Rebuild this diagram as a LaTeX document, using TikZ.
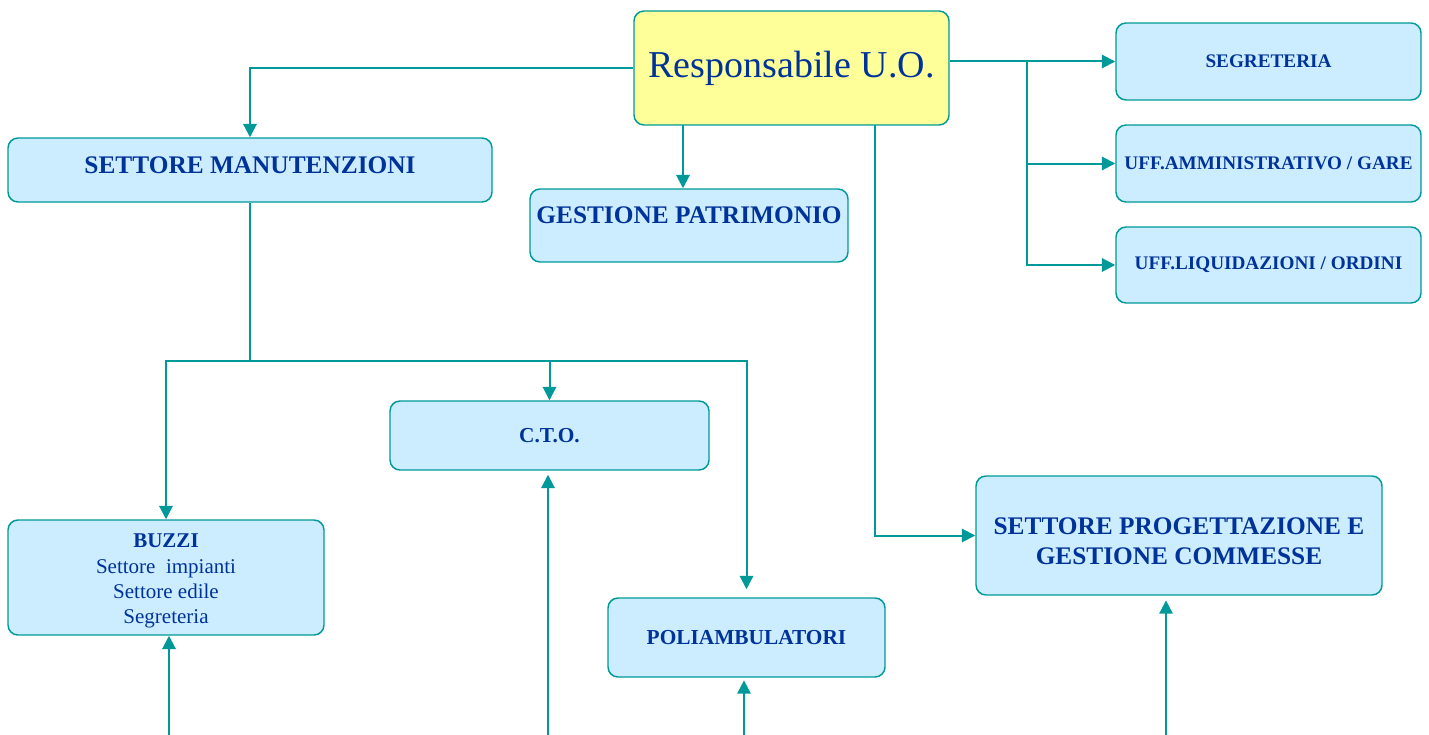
\documentclass[tikz,border=0pt]{standalone}
\usepackage{fontspec}
\setmainfont{Liberation Serif}
\usepackage{xcolor}
\usetikzlibrary{arrows.meta}
\definecolor{orgline}{RGB}{0,153,153}
\definecolor{orgtext}{RGB}{0,51,153}
\definecolor{orgfill}{RGB}{204,236,255}
\definecolor{bossfill}{RGB}{255,255,153}
\tikzset{
    blk/.style={draw=orgline, line width=1.1pt, fill=orgfill, rounded corners=7.5pt, inner sep=0pt, align=center, text=orgtext, font=\bfseries\fontsize{19pt}{22.5pt}\selectfont},
    small/.style={font=\bfseries\fontsize{14.4pt}{18pt}\selectfont},
    mid/.style={font=\bfseries\fontsize{16pt}{18pt}\selectfont},
    boss/.style={blk, fill=bossfill, font=\fontsize{28.5pt}{32pt}\selectfont},
    org/.style={>={Triangle[length=10pt,width=10pt]}, line width=1.5pt, draw=orgline}
}
\begin{document}
\begin{tikzpicture}[x=0.75pt, y=-0.75pt, org]
        \useasboundingbox (0,0) rectangle (1429,735);
        % boxes
        \node[boss, minimum width=236.25pt, minimum height=85.5pt] (resp) at (791.5,68) {Responsabile U.O.};
        \node[blk, minimum width=363pt, minimum height=48pt, text depth=7.5pt] (settman) at (250,170) {SETTORE MANUTENZIONI};
        \node[blk, minimum width=238.5pt, minimum height=54.75pt, text depth=15pt] (gest) at (689,225.5) {GESTIONE PATRIMONIO};
        \node[blk, small, minimum width=228.75pt, minimum height=57.75pt] (segr) at (1268.5,61.5) {SEGRETERIA};
        \node[blk, small, minimum width=228.75pt, minimum height=57.75pt] (amm) at (1268.5,163.5) {UFF.AMMINISTRATIVO / GARE};
        \node[blk, small, minimum width=228.75pt, minimum height=57pt] (liq) at (1268.5,265) {UFF.LIQUIDAZIONI / ORDINI};
        \node[blk, mid, minimum width=239.25pt, minimum height=51.75pt] (cto) at (549.5,435.5) {C.T.O.};
        \node[blk, minimum width=237pt, minimum height=86.25pt, font=\fontsize{15.75pt}{19pt}\selectfont] (buzzi) at (166,577.5) {\rule{0pt}{16pt}\textbf{BUZZI}\\Settore\ \ impianti\\Settore edile\\Segreteria};
        \node[blk, mid, minimum width=207.75pt, minimum height=59.25pt] (poli) at (746.5,637.5) {POLIAMBULATORI};
        \node[blk, minimum width=304.5pt, minimum height=89.25pt] (prog) at (1179,535.5) {\rule{0pt}{21pt}SETTORE PROGETTAZIONE E\\GESTIONE COMMESSE};

        % junction points
        \coordinate (d1) at (683,125);
        \coordinate (d2) at (875,125);
        \coordinate (br) at (1027,61.5);
        \coordinate (j1) at (250,361);
        \coordinate (b1) at (169,735);
        \coordinate (b2) at (548,735);
        \coordinate (b3) at (744,735);
        \coordinate (b4) at (1166,735);

        % connectors
        \draw[->] (resp.west) -| (settman.north);
        \draw[->] (d1) -- (d1 |- gest.north);
        \draw[->] (d2) |- (prog.west);
        \draw[->] (resp.east |- segr.west) -- (segr.west);
        \draw[->] (br) |- (amm.west);
        \draw[->] (br) |- (liq.west);
        \draw (settman.south) -- (j1);
        \draw[->] (j1) -| (buzzi.north);
        \draw[->] (j1) -| (cto.north);
        \draw[->, shorten >=6pt] (j1) -| (poli.north);
        \draw[->] (b1) -- (b1 |- buzzi.south);
        \draw[->, shorten >=3pt] (b2) -- (b2 |- cto.south);
        \draw[->, shorten >=2pt] (b3) -- (b3 |- poli.south);
        \draw[->, shorten >=3.5pt] (b4) -- (b4 |- prog.south);
    \end{tikzpicture}
\end{document}
